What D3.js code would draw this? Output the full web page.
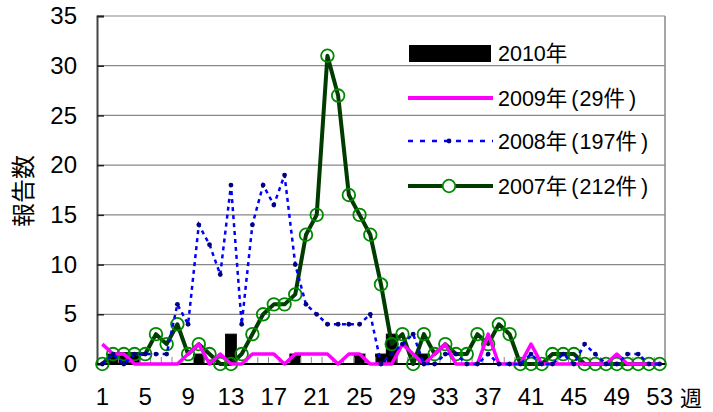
<!DOCTYPE html>
<html><head><meta charset="utf-8">
<script src="https://cdn.jsdelivr.net/npm/d3@7/dist/d3.min.js"></script>
<style>
body{margin:0;background:#fff;}
svg{display:block;font-family:"Liberation Sans",Arial,"Noto Sans CJK JP",sans-serif;}
</style></head>
<body>
<svg id="c" width="713" height="412"></svg>
<script>
const weeks = d3.range(1, 54);
const xTickLabels = [1,5,9,13,17,21,25,29,33,37,41,45,49,53];
const yTicks = [0,5,10,15,20,25,30,35];
const s2010 = [0,1,1,1,0,0,0,0,0,1,0,0,3,0,0,0,0,0,1,0,0,0,0,0,1,0,1,3,0,0,1,0,0,0,0,0,0,0,0,0,0,0,0,0,0,0,0,0,0,0,0,0,0];
const s2009 = [2,1,1,0,0,0,0,0,1,2,0,1,0,0,1,1,1,0,1,1,1,1,0,1,1,0,0,0,2,1,0,1,2,0,0,0,3,0,0,0,2,0,0,0,0,0,0,0,1,0,0,0,0];
const s2008 = [0,1,0,1,1,1,1,6,4,14,12,9,18,4,14,18,16,19,10,6,5,4,4,4,4,5,0,1,2,3,0,0,1,1,0,0,1,0,0,0,1,0,0,1,0,2,1,0,0,1,1,0,0];
const s2007 = [0,1,1,1,1,3,2,4,1,2,1,0,0,1,3,5,6,6,7,13,15,31,27,17,15,13,8,2,3,0,3,1,2,1,1,3,2,4,3,0,0,0,1,1,1,0,0,0,0,0,0,0,0];
const legendYears = ["2010年","2009年","2008年","2007年"];
const legendCounts = [null,"29件","197件","212件"];
const xUnit = "週";
const yTitle = "報告数";

const svg = d3.select("#c");
const L=97, R=665, T=16, B=364;
const x = d3.scaleBand().domain(weeks).range([L,R]).padding(0);
const y = d3.scaleLinear().domain([0,35]).range([B,T]);
const cx = w => x(w) + x.bandwidth()/2;

svg.append("g").selectAll("line").data(yTicks.filter(v=>v>0)).join("line")
  .attr("x1",L).attr("x2",R).attr("y1",d=>y(d)).attr("y2",d=>y(d))
  .attr("stroke","#888").attr("stroke-width",1.2);
svg.append("line").attr("x1",R).attr("x2",R).attr("y1",T).attr("y2",B).attr("stroke","#888").attr("stroke-width",1.5);

svg.append("g").selectAll("rect").data(weeks.map((w,i)=>({w,v:s2010[i]})).filter(d=>d.v>0)).join("rect")
  .attr("x",d=>x(d.w)).attr("width",x.bandwidth()).attr("y",d=>y(d.v)).attr("height",d=>B-y(d.v))
  .attr("fill","#000").attr("stroke","#000").attr("stroke-width",1);

svg.append("g").selectAll("line").data(weeks.slice(1)).join("line")
  .attr("x1",d=>x(d)).attr("x2",d=>x(d)).attr("y1",B).attr("y2",B-7)
  .attr("stroke","#888").attr("stroke-width",1);

const yAxis = d3.axisLeft(y).tickValues(yTicks).tickSize(-7).tickPadding(20).tickFormat(d3.format("d"));
const ga = svg.append("g").attr("transform",`translate(${L},0)`).call(yAxis);
ga.select(".domain").attr("stroke","#444").attr("stroke-width",2);
ga.selectAll(".tick line").attr("stroke","#222").attr("stroke-width",1.5);
ga.selectAll(".tick text").attr("font-size",24).attr("fill","#000").attr("font-family","Liberation Sans, Arial, sans-serif");

const xAxis = d3.axisBottom(x).tickValues(xTickLabels).tickSize(0).tickPadding(24);
const gx = svg.append("g").attr("transform",`translate(0,${B})`).call(xAxis);
gx.select(".domain").remove();
gx.selectAll(".tick text").attr("font-size",24).attr("fill","#000").attr("font-family","Liberation Sans, Arial, sans-serif");
svg.append("line").attr("x1",L).attr("x2",R).attr("y1",B).attr("y2",B).attr("stroke","#000").attr("stroke-width",2);
svg.append("text").attr("x",680).attr("y",406).attr("font-size",22).text(xUnit)
  .attr("font-family","Noto Sans CJK JP, sans-serif");

svg.append("text").attr("transform","translate(32,191) rotate(-90)").attr("text-anchor","middle")
  .attr("font-size",24).attr("font-family","Noto Sans CJK JP, sans-serif").text(yTitle);

const line = d3.line().x((d,i)=>cx(weeks[i])).y(d=>y(d));

svg.append("path").datum(s2007).attr("d",line).attr("fill","none").attr("stroke","#003b00").attr("stroke-width",4).attr("stroke-linejoin","round");
svg.append("g").selectAll("circle").data(s2007).join("circle")
  .attr("cx",(d,i)=>cx(weeks[i])).attr("cy",d=>y(d)).attr("r",6.3)
  .attr("fill","none").attr("stroke","#008a00").attr("stroke-width",1.8);

svg.append("path").datum(s2009).attr("d",line).attr("fill","none").attr("stroke","#ff00ff").attr("stroke-width",3.5).attr("stroke-linejoin","round");

svg.append("path").datum(s2008).attr("d",line).attr("fill","none").attr("stroke","#0000ff").attr("stroke-width",2.5).attr("stroke-dasharray","4,4");
svg.append("g").selectAll("circle").data(s2008).join("circle")
  .attr("cx",(d,i)=>cx(weeks[i])).attr("cy",d=>y(d)).attr("r",2.4).attr("fill","#000080");

const lg = svg.append("g");
const ly = [53.5, 98, 141, 186];
lg.append("rect").attr("x",409).attr("y",45).attr("width",82).attr("height",17).attr("fill","#000");
lg.append("line").attr("x1",408).attr("x2",493).attr("y1",ly[1]).attr("y2",ly[1]).attr("stroke","#ff00ff").attr("stroke-width",4);
lg.append("line").attr("x1",408).attr("x2",493).attr("y1",ly[2]).attr("y2",ly[2]).attr("stroke","#0000ff").attr("stroke-width",2.5).attr("stroke-dasharray","5,7");
lg.append("circle").attr("cx",449).attr("cy",ly[2]).attr("r",2.4).attr("fill","#000080");
lg.append("line").attr("x1",408).attr("x2",493).attr("y1",ly[3]).attr("y2",ly[3]).attr("stroke","#003b00").attr("stroke-width",4);
lg.append("circle").attr("cx",449).attr("cy",ly[3]).attr("r",6.3).attr("fill","#fff").attr("stroke","#008a00").attr("stroke-width",1.8);
legendYears.forEach((yr,i)=>{
  const t = lg.append("text").attr("x",498).attr("y",ly[i]).attr("dy","0.36em").attr("font-size",21.5);
  t.append("tspan").text(yr);
  if (legendCounts[i]) {
    t.append("tspan").attr("dx",4).text("(");
    t.append("tspan").attr("dx",1).text(legendCounts[i]);
    t.append("tspan").attr("dx",4).text(")");
  }
});
</script>
</body></html>
